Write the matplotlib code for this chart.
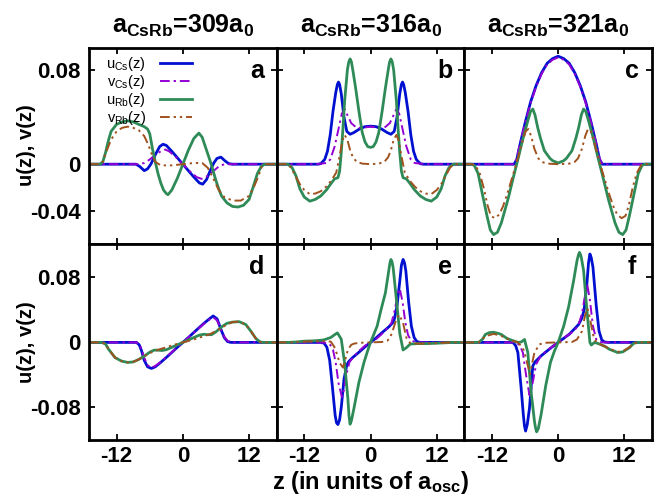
import matplotlib
matplotlib.use("Agg")
import matplotlib.pyplot as plt

plt.rcParams['font.family'] = ['Liberation Sans', 'DejaVu Sans']
plt.rcParams['mathtext.fontset'] = 'custom'
plt.rcParams['mathtext.rm'] = 'Liberation Sans'
plt.rcParams['mathtext.bf'] = 'Liberation Sans:bold'
plt.rcParams['mathtext.it'] = 'Liberation Sans:italic'

# ---- data: z positions and amplitudes ----
# panel a (a_CsRb = 309 a0, ground-state like)
a_ucs_z = [-17, -8.5, -7.8, -7, -6.4, -5.8, -5, -4.2, -3.6, -3, -2, -1, 0, 1, 2, 3, 3.6, 4.3, 5, 5.6, 6.2, 6.9, 7.6, 8.3, 9, 17]
a_ucs = [0, 0, -0.002, -0.0055, -0.004, 0, 0.008, 0.015, 0.017, 0.016, 0.011, 0.0055, 0, -0.0055, -0.011, -0.016, -0.017, -0.013, -0.005, 0.001, 0.005, 0.006, 0.003, 0.0005, 0, 0]
a_vcs_z = [-17, -8, -7, -6, -5, -4, -3.2, -2.5, -1, 0, 1, 2.5, 3.4, 4.5, 5.5, 6.5, 7.5, 17]
a_vcs = [0, 0, 0.001, 0.004, 0.008, 0.011, 0.0125, 0.011, 0.005, 0, -0.005, -0.011, -0.0125, -0.010, -0.006, -0.002, 0, 0]
a_urb_z = [-17, -15, -14.5, -14, -13.5, -13, -12, -11, -10, -9, -8, -7, -6.4, -6, -5.5, -5, -4.5, -4, -3.5, -3, -2.7, -2, -1, 0, 1, 2, 2.9, 3.5, 4, 4.5, 5, 5.5, 6, 6.5, 7, 8, 9, 10, 11, 12, 12.7, 13.5, 14.2, 14.8, 17]
a_urb = [0, 0, 0.002, 0.010, 0.020, 0.028, 0.034, 0.036, 0.037, 0.036, 0.034, 0.032, 0.030, 0.026, 0.013, 0.002, -0.008, -0.016, -0.022, -0.025, -0.026, -0.022, -0.012, 0.0, 0.012, 0.022, 0.0265, 0.023, 0.016, 0.009, 0.002, -0.006, -0.014, -0.021, -0.027, -0.033, -0.036, -0.0365, -0.035, -0.030, -0.020, -0.008, -0.002, 0, 0]
a_vrb_z = [-17, -15, -14.5, -14, -13, -12, -11, -10, -9, -8, -7, -6.3, -5.6, -5, -4, -2, 0, 2, 3.5, 4.5, 5.5, 6.5, 7.5, 9, 10.5, 12, 13, 13.7, 14.3, 15, 17]
a_vrb = [0, 0, 0.002, 0.009, 0.021, 0.028, 0.031, 0.032, 0.031, 0.029, 0.024, 0.017, 0.008, 0.002, -0.001, -0.001, 0.0, 0.001, 0.001, -0.003, -0.012, -0.022, -0.028, -0.031, -0.031, -0.027, -0.018, -0.010, -0.002, 0, 0]

# panel b (316 a0)
b_ucs_z = [-17, -9.5, -9, -8.3, -7.8, -7.3, -6.8, -6.3, -6.0, -5.8, -5.6, -5.3, -4.8, -4.3, -3.7, -3, -2, -1, 0, 1, 2, 3, 3.7, 4.3, 4.8, 5.3, 5.6, 5.8, 6.0, 6.3, 6.8, 7.3, 7.8, 8.3, 9, 9.5, 17]
b_ucs = [0, 0, 0.0005, 0.004, 0.011, 0.025, 0.045, 0.061, 0.068, 0.070, 0.068, 0.060, 0.040, 0.028, 0.0255, 0.027, 0.030, 0.032, 0.0324, 0.032, 0.030, 0.027, 0.0255, 0.028, 0.040, 0.060, 0.068, 0.070, 0.068, 0.061, 0.045, 0.025, 0.011, 0.004, 0.0005, 0, 0]
b_vcs_z = [-17, -10, -9, -8, -7.3, -6.5, -5.8, -5.2, -4.7, -4.2, -3.5, -2.5, -1.5, 0, 1.5, 2.5, 3.5, 4.2, 4.7, 5.2, 5.8, 6.5, 7.3, 8, 9, 10, 17]
b_vcs = [0, 0, 0.0005, 0.001, 0.004, 0.015, 0.030, 0.043, 0.047, 0.042, 0.035, 0.031, 0.031, 0.032, 0.031, 0.031, 0.035, 0.042, 0.047, 0.043, 0.030, 0.015, 0.004, 0.001, 0.0005, 0, 0]
b_urb_z = [-17, -15, -14.2, -13.5, -12.8, -12, -11, -10, -9, -8, -7, -6.5, -5.9, -5.6, -5.3, -5.0, -4.7, -4.2, -3.95, -3.7, -3.45, -3.2, -2.7, -2.1, -1.5, -1, -0.5, 0,
           0.5, 1, 1.5, 2.1, 2.7, 3.2, 3.45, 3.7, 3.95, 4.2, 4.7, 5.0, 5.3, 5.6, 5.9, 6.5, 7, 8, 9, 10, 11, 12, 12.8, 13.5, 14.2, 15, 17]
b_urb = [0, 0, -0.003, -0.010, -0.021, -0.028, -0.0315, -0.030, -0.027, -0.022, -0.0155, -0.0125, -0.0115, -0.006, 0.010, 0.030, 0.053, 0.080, 0.087, 0.0897, 0.087, 0.080, 0.065, 0.045, 0.027, 0.019, 0.015, 0.0143,
         0.015, 0.019, 0.027, 0.045, 0.065, 0.080, 0.087, 0.0897, 0.087, 0.080, 0.053, 0.030, 0.010, -0.006, -0.0115, -0.0125, -0.0155, -0.022, -0.027, -0.030, -0.0315, -0.028, -0.021, -0.010, -0.003, 0, 0]
b_vrb_z = [-17, -15, -14.4, -13.6, -12.8, -12, -11, -10, -9, -8, -7.1, -6.2, -5.6, -5.1, -4.7, -4.2, -3.7, -3.2, -2.5, -1.5, 0,
           1.5, 2.5, 3.2, 3.7, 4.2, 4.7, 5.1, 5.6, 6.2, 7.1, 8, 9, 10, 11, 12, 12.8, 13.6, 14.4, 15, 17]
b_vrb = [0, 0, -0.003, -0.010, -0.017, -0.022, -0.0255, -0.025, -0.023, -0.019, -0.014, -0.007, 0.007, 0.020, 0.025, 0.021, 0.012, 0.006, 0.002, 0.0005, 0,
         0.0005, 0.002, 0.006, 0.012, 0.021, 0.025, 0.020, 0.007, -0.007, -0.014, -0.019, -0.023, -0.025, -0.0255, -0.022, -0.017, -0.010, -0.003, 0, 0]

# panel c (321 a0)
c_ucs_z = [-17, -8, -7.5, -7, -6, -5, -4, -3, -2, -1, 0, 1, 2, 3, 4, 5, 6, 7, 7.5, 8, 17]
c_ucs = [0, 0, 0.004, 0.015, 0.035, 0.053, 0.067, 0.078, 0.086, 0.090, 0.092, 0.090, 0.086, 0.078, 0.067, 0.053, 0.035, 0.015, 0.004, 0, 0]
c_vcs = [0, 0, 0.005, 0.016, 0.035, 0.052, 0.066, 0.077, 0.085, 0.089, 0.091, 0.089, 0.085, 0.077, 0.066, 0.052, 0.035, 0.016, 0.005, 0, 0]
c_urb_z = [-17, -15.7, -15.2, -14.5, -13.8, -12.9, -12.3, -11.7, -11, -10.3, -9.1, -7.9, -7.3, -6.4, -5.5, -5, -4.6, -4.2, -3.7, -3.2, -2.5, -1.5, -1, 0,
           1, 1.5, 2.5, 3.2, 3.7, 4.2, 4.6, 5, 5.5, 6.4, 7.3, 7.9, 9.1, 10.3, 11, 11.7, 12.3, 12.9, 13.8, 14.5, 15.2, 15.7, 17]
c_urb = [0, 0, -0.001, -0.008, -0.024, -0.044, -0.056, -0.060, -0.058, -0.050, -0.030, -0.007, 0.004, 0.0215, 0.037, 0.045, 0.047, 0.042, 0.031, 0.022, 0.0115, 0.005, 0.003, 0.001,
         0.003, 0.005, 0.0115, 0.022, 0.031, 0.042, 0.047, 0.045, 0.037, 0.0215, 0.004, -0.007, -0.030, -0.050, -0.058, -0.060, -0.056, -0.044, -0.024, -0.008, -0.001, 0, 0]
c_vrb_z = [-17, -15.7, -15, -14.2, -13.5, -12.8, -12.2, -11.5, -10.7, -10, -9.2, -8.5, -7.8, -7.2, -6.6, -5.9, -5.4, -4.9, -4.3, -3.6, -3, -2, 0,
           2, 3, 3.6, 4.3, 4.9, 5.4, 5.9, 6.6, 7.2, 7.8, 8.5, 9.2, 10, 10.7, 11.5, 12.2, 12.8, 13.5, 14.2, 15, 15.7, 17]
c_vrb = [0, 0, -0.001, -0.008, -0.020, -0.035, -0.044, -0.046, -0.043, -0.036, -0.025, -0.014, -0.003, 0.007, 0.017, 0.028, 0.030, 0.024, 0.013, 0.005, 0.002, 0.0005, 0,
         0.0005, 0.002, 0.005, 0.013, 0.024, 0.030, 0.028, 0.017, 0.007, -0.003, -0.014, -0.025, -0.036, -0.043, -0.046, -0.044, -0.035, -0.020, -0.008, -0.001, 0, 0]

# panel d (309 a0, excited mode)
d_cs_z = [-17, -8.4, -7.9, -7.5, -7.0, -6.4, -5.7, -5, -4, -3, -2, -1, 0, 1, 2, 3, 4, 5, 5.5, 6.2, 6.9, 7.5, 8.1, 8.7, 17]
d_ucs = [0, 0, -0.003, -0.010, -0.022, -0.030, -0.032, -0.030, -0.0245, -0.0185, -0.0123, -0.006, 0, 0.006, 0.0123, 0.0185, 0.0245, 0.030, 0.0325, 0.029, 0.016, 0.006, 0.001, 0, 0]
d_vcs = [0, 0, -0.002, -0.008, -0.019, -0.028, -0.031, -0.029, -0.024, -0.018, -0.012, -0.006, 0, 0.006, 0.012, 0.018, 0.024, 0.029, 0.031, 0.027, 0.016, 0.007, 0.002, 0, 0]
d_urb_z = [-17, -14.7, -14, -13.5, -12.3, -11.1, -10, -9, -8, -7, -6, -5.2, -4.5, -3.8, -3, -2, -1, 0, 1, 2, 3, 3.8, 4.5, 5.2, 6, 7, 8, 9, 10.2, 11.4, 12.3, 13.2, 14, 14.7, 17]
d_urb = [0, 0, -0.002, -0.008, -0.0186, -0.023, -0.0246, -0.024, -0.021, -0.017, -0.012, -0.0095, -0.0095, -0.010, -0.009, -0.006, -0.003, 0, 0.003, 0.006, 0.009, 0.010, 0.0095, 0.0095, 0.013, 0.019, 0.0235, 0.025, 0.0255, 0.022, 0.014, 0.005, 0.0005, 0, 0]
d_vrb_z = [-17, -14.7, -14, -13.5, -12.3, -11.1, -10, -9, -8, -7, -6, -5, -4, -3, -2, -1, 0, 1, 2, 3, 4, 5, 6, 7, 8, 9, 10.2, 11.4, 12.3, 13.2, 14, 14.7, 17]
d_vrb = [0, 0, -0.002, -0.008, -0.0186, -0.023, -0.0246, -0.024, -0.021, -0.017, -0.013, -0.0105, -0.008, -0.006, -0.0037, -0.0018, 0, 0.0018, 0.0037, 0.006, 0.008, 0.0105, 0.014, 0.018, 0.022, 0.025, 0.0255, 0.022, 0.014, 0.005, 0.0005, 0, 0]

# panel e (316 a0, excited mode)
e_ucs_z = [-17, -9, -8.4, -7.9, -7.4, -6.9, -6.4, -6.15, -5.9, -5.6, -5.3, -4.8, -4.3, -4, -3.3, -2, -1, 0, 1, 2, 3.3, 4, 4.3, 4.8, 5.3, 5.6, 5.9, 6.15, 6.4, 6.9, 7.4, 7.9, 8.4, 9, 17]
e_ucs = [0, 0, -0.001, -0.006, -0.022, -0.055, -0.090, -0.099, -0.101, -0.095, -0.080, -0.045, -0.028, -0.024, -0.019, -0.0115, -0.0055, 0, 0.0055, 0.0115, 0.019, 0.024, 0.028, 0.045, 0.075, 0.095, 0.102, 0.098, 0.088, 0.050, 0.020, 0.006, 0.001, 0, 0]
e_vcs_z = [-17, -9, -8, -7.3, -6.8, -6.3, -5.8, -5.2, -4.8, -4.4, -3.8, -3, -2, -1, 0, 1, 2, 3, 3.8, 4.4, 4.9, 5.3, 5.8, 6.3, 6.8, 7.3, 8, 9, 17]
e_vcs = [0, 0, -0.0005, -0.003, -0.009, -0.025, -0.050, -0.067, -0.058, -0.040, -0.024, -0.017, -0.010, -0.004, 0, 0.004, 0.010, 0.017, 0.024, 0.040, 0.058, 0.066, 0.050, 0.025, 0.009, 0.003, 0.0005, 0, 0]
e_urb_z = [-17, -15, -13.5, -12, -10, -8.5, -7.2, -6.5, -6.0, -5.3, -4.7, -4.1, -3.9, -3.7, -3.45, -3.0, -2.1, -1.2, -0.6, 0, 0.6, 1.2, 1.9, 2.7, 3.3, 3.5, 3.7, 3.9, 4.1, 4.7, 5.3, 5.9, 6.5, 7.2, 8.5, 10, 12, 13.5, 15, 17]
e_urb = [0, 0, 0.0005, 0.0015, 0.002, 0.003, 0.006, 0.0095, 0.0117, 0.004, -0.025, -0.069, -0.090, -0.1006, -0.096, -0.081, -0.049, -0.025, -0.012, 0, 0.010, 0.020, 0.040, 0.061, 0.088, 0.097, 0.102, 0.099, 0.092, 0.052, 0.011, -0.0093, -0.0065, -0.002, -0.0015, -0.0015, -0.001, -0.0005, 0, 0]
e_vrb_z = [-17, -14.5, -12, -10, -8.5, -7.2, -6.6, -6.1, -5.6, -5.0, -4.6, -4.1, -3.5, -3, -2, 0, 2, 3, 3.5, 4.1, 4.7, 5.2, 5.9, 6.5, 7.2, 8.5, 10, 12, 14.5, 17]
e_vrb = [0, 0, 0.001, 0.0015, 0.0015, 0.001, -0.005, -0.014, -0.025, -0.031, -0.022, -0.009, -0.003, -0.0015, -0.0005, 0, 0.0005, 0.002, 0.005, 0.016, 0.029, 0.034, 0.024, 0.0057, -0.001, -0.0015, -0.0015, -0.001, 0, 0]

# panel f (321 a0, excited mode)
f_ucs_z = [-17, -9, -8.2, -7.7, -7.3, -6.7, -6.3, -6.1, -5.9, -5.6, -5.2, -4.6, -4.2, -3.7, -3, -2, -1, 0, 1, 2, 3, 3.7, 4.3, 4.7, 5.2, 5.5, 5.75, 6.0, 6.3, 6.9, 7.4, 7.9, 8.4, 9, 17]
f_ucs = [0, 0, 0, -0.004, -0.0125, -0.057, -0.090, -0.103, -0.109, -0.101, -0.081, -0.029, -0.024, -0.0206, -0.016, -0.0105, -0.005, 0, 0.005, 0.010, 0.017, 0.022, 0.030, 0.040, 0.072, 0.098, 0.1087, 0.104, 0.0925, 0.045, 0.014, 0.003, 0.0005, 0, 0]
f_vcs_z = [-17, -8, -7.3, -6.8, -6.4, -5.8, -5.2, -4.6, -4.0, -3.2, -2.5, -1, 0, 1, 2.5, 3.2, 3.7, 4.3, 4.8, 5.3, 5.75, 6.3, 6.9, 7.4, 8, 17]
f_vcs = [0, 0, -0.0015, -0.006, -0.0125, -0.041, -0.065, -0.049, -0.027, -0.017, -0.0125, -0.005, 0, 0.005, 0.0125, 0.017, 0.022, 0.035, 0.055, 0.070, 0.052, 0.020, 0.0036, 0.001, 0, 0]
f_urb_z = [-17, -14.4, -13.7, -13.2, -12.5, -11.7, -10.8, -10.3, -9.3, -8.8, -7.3, -6.7, -6.1, -5.5, -4.9, -4.3, -4.1, -3.9, -3.6, -3.1, -2.25, -1.4, -0.7, 0,
           1.0, 1.9, 2.8, 3.4, 3.65, 3.85, 4.05, 4.2, 4.6, 5.2, 5.75, 6.0, 6.6, 7.5, 8.5, 9.3, 10.8, 11.7, 12.9, 13.7, 14.5, 17]
f_urb = [0, 0, 0.004, 0.0097, 0.012, 0.0125, 0.011, 0.0097, 0.005, 0.0036, 0, 0.0005, 0.0036, -0.0125, -0.061, -0.097, -0.105, -0.110, -0.106, -0.089, -0.053, -0.0246, -0.011, 0,
         0.020, 0.044, 0.076, 0.100, 0.107, 0.1107, 0.108, 0.104, 0.0885, 0.040, 0.0, -0.0032, 0.0, -0.002, -0.005, -0.0085, -0.0125, -0.0117, -0.0065, -0.001, 0, 0]
f_vrb_z = [-17, -14.4, -13.2, -11.7, -10.3, -8.8, -7.3, -6.7, -6.2, -5.8, -5.1, -4.7, -4.3, -3.4, -2.5, 0,
           2.5, 3.4, 4.3, 4.9, 5.3, 5.75, 6.3, 6.9, 7.5, 8.5, 9.3, 10.8, 11.7, 12.9, 13.7, 14.5, 17]
f_vrb = [0, 0, 0.0075, 0.0105, 0.008, 0.003, 0, -0.0044, -0.010, -0.0206, -0.039, -0.025, -0.0125, -0.0024, -0.0005, 0,
         0.0005, 0.0036, 0.0137, 0.034, 0.042, 0.030, 0.0097, 0, -0.002, -0.005, -0.008, -0.0115, -0.011, -0.006, -0.001, 0, 0]

titles = [r'$\mathbf{a_{CsRb}}$=309$\mathbf{a_0}$',
          r'$\mathbf{a_{CsRb}}$=316$\mathbf{a_0}$',
          r'$\mathbf{a_{CsRb}}$=321$\mathbf{a_0}$']
panel_tags = ['a', 'b', 'c', 'd', 'e', 'f']
labels = [r'$\mathregular{u_{Cs}(z)}$', r'$\mathregular{v_{Cs}(z)}$',
          r'$\mathregular{u_{Rb}(z)}$', r'$\mathregular{v_{Rb}(z)}$']

panels = [
    [(a_ucs_z, a_ucs), (a_vcs_z, a_vcs), (a_urb_z, a_urb), (a_vrb_z, a_vrb)],
    [(b_ucs_z, b_ucs), (b_vcs_z, b_vcs), (b_urb_z, b_urb), (b_vrb_z, b_vrb)],
    [(c_ucs_z, c_ucs), (c_ucs_z, c_vcs), (c_urb_z, c_urb), (c_vrb_z, c_vrb)],
    [(d_cs_z, d_ucs), (d_cs_z, d_vcs), (d_urb_z, d_urb), (d_vrb_z, d_vrb)],
    [(e_ucs_z, e_ucs), (e_vcs_z, e_vcs), (e_urb_z, e_urb), (e_vrb_z, e_vrb)],
    [(f_ucs_z, f_ucs), (f_vcs_z, f_vcs), (f_urb_z, f_urb), (f_vrb_z, f_vrb)],
]

colors = ['#0010d0', '#9400d3', '#2e8b57', '#a0521e']
widths = [2.0, 1.4, 2.0, 1.4]
dashes = [None, (5, 2, 1.2, 2), None, (5, 2, 1.2, 2, 1.2, 2)]

fig, axes = plt.subplots(2, 3, figsize=(6.57, 4.97), dpi=100)
fig.subplots_adjust(left=0.1355, right=0.9924, top=0.9034, bottom=0.1147,
                    wspace=0, hspace=0)

for i, ax in enumerate(axes.flat):
    for j, (zz, vv) in enumerate(panels[i]):
        line, = ax.plot(zz, vv, color=colors[j], lw=widths[j], label=labels[j])
        if dashes[j] is not None:
            line.set_dashes(dashes[j])
    ax.set_xlim(-17, 17)
    ax.set_xticks([-12, 0, 12])
    if i < 3:
        ax.set_ylim(-0.068, 0.099)
        ax.set_yticks([-0.04, 0, 0.08])
        ax.set_yticklabels(['-0.04', '0', '0.08'])
        ax.set_xticklabels([])
        ax.set_title(titles[i], fontsize=18, fontweight='bold', pad=11)
    else:
        ax.set_ylim(-0.12, 0.121)
        ax.set_yticks([-0.08, 0, 0.08])
        ax.set_yticklabels(['-0.08', '0', '0.08'])
        ax.set_xticklabels(['-12', '0', '12'])
    if i % 3 != 0:
        ax.set_yticklabels([])
    ax.tick_params(direction='in', length=4, width=1.3, top=True, right=True,
                   labelsize=16, pad=6)
    ax.tick_params(axis='x', pad=4)
    for lab in ax.get_xticklabels() + ax.get_yticklabels():
        lab.set_fontweight('bold')
    for sp in ax.spines.values():
        sp.set_linewidth(2.0)
    ax.text(0.895, 0.885, panel_tags[i], transform=ax.transAxes, fontsize=18,
            fontweight='bold', ha='center', va='center')

# row y-labels placed by hand, as in the original layout
for yc in [0.708, 0.3125]:
    fig.text(0.041, yc, 'u(z), v(z)', rotation=90, fontsize=14.5,
             fontweight='bold', ha='center', va='center')

axes[0, 0].legend(loc='upper left', bbox_to_anchor=(0.05, 1.0), frameon=False,
                  markerfirst=False, fontsize=10.5, handlelength=2.2,
                  labelspacing=0.0, handletextpad=1.0, borderaxespad=0.1)

fig.text(0.5643, 0.002, r'z (in units of a$_{\mathbf{osc}}$)', fontsize=17,
         fontweight='bold', ha='center', va='bottom')

fig.savefig('out.png', dpi=100)
